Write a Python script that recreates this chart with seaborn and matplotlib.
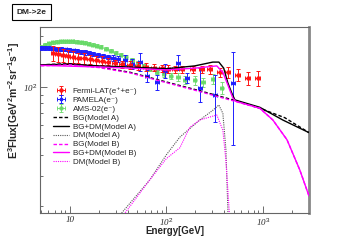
import numpy as np
import pandas as pd
import matplotlib
matplotlib.use("Agg")
import matplotlib.pyplot as plt
import matplotlib.ticker as mticker
import seaborn as sns

# Fermi-LAT (e+ + e-)
fermi_E = [6.7, 7.5, 8.5, 9.5, 10.7, 12.1, 14.0, 16.1, 18.6, 21.4, 24.7, 29.3, 34.6, 41.9, 50.7,
           61.3, 74.2, 89.7, 103.5, 122, 145, 188, 233, 282, 358, 433, 550, 700, 888]
fermi_F = [158, 156, 154, 152, 150, 148, 147, 146, 144, 143, 141, 138, 136, 135, 133,
           131, 130, 129, 128, 127, 127, 127, 127, 127, 122, 122, 118, 113, 113]
fermi_rel = [0.10, 0.10, 0.09, 0.09, 0.08, 0.07, 0.07, 0.06, 0.06, 0.06, 0.05, 0.05, 0.05, 0.05, 0.05,
             0.05, 0.05, 0.05, 0.05, 0.05, 0.05, 0.05, 0.05, 0.06, 0.06, 0.07, 0.08, 0.09, 0.10]

# PAMELA (e-)
pamela_E = [5.0, 5.5, 6.06, 6.67, 7.33, 8.07, 8.88, 9.76, 10.7, 11.8, 13.0, 14.3, 15.7, 17.3, 19.5,
            22.0, 24.7, 27.9, 31.4, 37.2, 43.9, 53.1, 62.8, 79.6, 96.3, 131.6, 163, 222, 318, 489]
pamela_F = [169.6, 169.6, 169.6, 168, 167.3, 167.3, 166, 165, 164, 163, 160.7, 159.6, 158.5, 156.4, 154.3,
            152.3, 150.3, 148.3, 146.3, 144.2, 136.5, 140, 116, 107, 124.2, 138.4, 113, 98.7, 89.7, 105.6]
pamela_lo = [165, 165, 165, 164, 163, 163, 162, 161, 160, 159, 156, 155, 154, 152, 150,
             147, 145, 143, 141, 134.7, 127.6, 124.2, 107, 96, 112.9, 125.9, 105.6, 81.6, 62.2, 45.6]
pamela_hi = [174, 174, 174, 172, 171, 171, 170, 169, 168, 167, 165, 164, 163, 161, 159,
             157, 155, 154, 152, 154.3, 146, 158.5, 125.8, 117.6, 136.5, 154.3, 120.9, 129.4, 117.6, 160.6]

# AMS-02 (e-)
ams_E = [5.0, 5.5, 6.06, 6.67, 7.33, 8.07, 8.88, 9.76, 10.7, 11.8, 13.0, 14.3, 15.7, 17.3, 19.0,
         20.9, 23.6, 26.6, 29.9, 33.7, 38.0, 43.9, 50.7, 58.4, 67.4, 79.6, 94.1, 111, 132, 156,
         197, 239, 303, 375]
ams_F = [172, 176.6, 180.2, 182.7, 183.9, 185, 185, 185, 185, 183.9, 182.7, 181.4, 179, 176.6, 174.3,
         172, 167.3, 162.9, 158.5, 154.3, 150.2, 144.1, 138.4, 132.9, 127.6, 122.5, 119.2, 116.1, 114.5, 110,
         110, 107, 111.5, 98.7]
ams_rel = [0.02] * 20 + [0.03] * 6 + [0.04, 0.04, 0.05, 0.05, 0.06, 0.06, 0.07, 0.08]

# Model A curves
bgA_E = [5, 10, 20, 42, 100, 222, 490, 930, 1690, 3000]
bgA_F = [135, 137, 131, 122, 107, 95, 84, 75, 66, 54]
totA_E = [5, 10, 20, 42, 100, 197, 303, 350, 393, 433, 477, 513, 930, 1610, 3000]
totA_F = [135, 136, 133, 131, 128, 133, 140, 140, 129, 106, 92, 84, 76, 64, 54]
dmA_E = [31, 67, 100, 138, 222, 303, 350, 385, 414, 440]
dmA_F = [17, 28.4, 40, 50.8, 64, 73, 78.4, 70, 43, 15]

# Model B curves
bgB_E = [5, 10, 20, 42, 100, 222, 490, 930, 1270, 1780, 2420, 3000]
bgB_F = [133, 135, 130, 121, 106, 94, 83, 75, 64, 49, 32.5, 23]
totB_E = [5, 20, 42, 100, 197, 333, 385, 433, 489, 521, 930, 1270, 1780, 2420, 3000]
totB_F = [134, 131, 129, 126, 129, 133, 122, 103, 86, 82.5, 75, 64, 49, 32.5, 23]
dmB_E = [34, 67, 100, 138, 175, 222, 333, 385, 414, 460]
dmB_F = [17, 28.4, 38, 44, 58, 64, 68.5, 55.8, 37, 15]

sns.set_style("ticks")
plt.rcParams['font.family'] = ['Liberation Sans', 'DejaVu Sans']
plt.rcParams['mathtext.fontset'] = 'custom'
plt.rcParams['mathtext.rm'] = 'Liberation Sans'
plt.rcParams['mathtext.bf'] = 'Liberation Sans:bold'

fig = plt.figure(figsize=(3.51, 2.41), dpi=100)
ax = fig.add_axes([0.114, 0.116, 0.766, 0.772])

red, blue, green = "#ff1414", "#1e1eff", "#66d966"

lab_f = "Fermi-LAT(e\u207a+e\u207b)"
lab_p = "PAMELA(e\u207b)"
lab_a = "AMS-02(e\u207b)"

f_E = np.array(fermi_E); f_F = np.array(fermi_F)
f_err = f_F * np.array(fermi_rel)
ax.errorbar(f_E, f_F, yerr=f_err, xerr=[f_E * 0.06, f_E * 0.06], fmt='o', color=red, ms=2.2,
            elinewidth=0.7, capsize=1.2, capthick=0.7, zorder=5, label=lab_f)

p_E = np.array(pamela_E); p_F = np.array(pamela_F)
ax.errorbar(p_E, p_F, yerr=[p_F - np.array(pamela_lo), np.array(pamela_hi) - p_F],
            xerr=[p_E * 0.05, p_E * 0.05], fmt='s', color=blue, ms=2.0,
            elinewidth=0.7, capsize=1.2, capthick=0.7, zorder=4, label=lab_p)

a_E = np.array(ams_E); a_F = np.array(ams_F)
ax.errorbar(a_E, a_F, yerr=a_F * np.array(ams_rel), xerr=[a_E * 0.04, a_E * 0.04], fmt='o',
            color=green, ms=2.2, elinewidth=0.7, capsize=1.2, capthick=0.7, alpha=0.85,
            zorder=3, label=lab_a)

curves = [
    (bgA_E, bgA_F, "BG(Model A)", "black", (0, (2.5, 1.5)), 1.0),
    (totA_E, totA_F, "BG+DM(Model A)", "black", "-", 1.0),
    (dmA_E, dmA_F, "DM(Model A)", "#555555", (0, (1, 1)), 0.8),
    (bgB_E, bgB_F, "BG(Model B)", "#ff00ff", (0, (2.5, 1.5)), 1.0),
    (totB_E, totB_F, "BG+DM(Model B)", "#ff00ff", "-", 1.0),
    (dmB_E, dmB_F, "DM(Model B)", "#ff00ff", (0, (1, 1)), 0.8),
]
for xs, ys, lab, col, ls, lw in curves:
    d = pd.DataFrame({"E": xs, "F": ys})
    sns.lineplot(data=d, x="E", y="F", ax=ax, color=col, linestyle=ls, linewidth=lw,
                 sort=False, label=lab, zorder=6)

ax.set_xscale("log")
ax.set_yscale("log")
ax.set_xlim(4.9, 3000)
ax.set_ylim(18.2, 225)

ax.xaxis.set_major_locator(mticker.FixedLocator([10, 100, 1000]))
ax.xaxis.set_major_formatter(mticker.FixedFormatter(["10", "10$^{2}$", "10$^{3}$"]))
ax.xaxis.set_minor_locator(mticker.LogLocator(base=10, subs=np.arange(2, 10)))
ax.xaxis.set_minor_formatter(mticker.NullFormatter())
ax.yaxis.set_major_locator(mticker.FixedLocator([100]))
ax.yaxis.set_major_formatter(mticker.FixedFormatter(["10$^{2}$"]))
ax.yaxis.set_minor_locator(mticker.LogLocator(base=10, subs=np.arange(2, 10)))
ax.yaxis.set_minor_formatter(mticker.NullFormatter())
ax.tick_params(which="both", direction="in", color="#555555", width=0.6)
ax.tick_params(which="major", length=5, pad=2)
ax.tick_params(which="minor", length=2.5)
for lbl in ax.get_xticklabels() + ax.get_yticklabels():
    lbl.set_family("Liberation Serif")
    lbl.set_style("italic")
    lbl.set_fontsize(6.5)

for s in ["left", "bottom", "top"]:
    ax.spines[s].set_color("#666666")
    ax.spines[s].set_linewidth(0.8)
ax.spines["right"].set_color("#888888")
ax.spines["right"].set_linewidth(2.0)

ax.set_xlabel("")
ax.set_ylabel("")
fig.text(0.497, 0.04, "Energy[GeV]", ha="center", va="center", fontsize=7, fontweight="bold")
fig.text(0.04, 0.585, r"E$^{\mathbf{3}}$Flux[GeV$^{\mathbf{2}}$m$^{\mathbf{-2}}$sr$^{\mathbf{-1}}$s$^{\mathbf{-1}}$]",
         rotation=90, ha="center", va="center", fontsize=7.5, fontweight="bold")
fig.text(0.09, 0.95, "DM->2e", ha="center", va="center", fontsize=6, fontweight="bold",
         bbox=dict(boxstyle="square,pad=0.5", facecolor="white", edgecolor="black", linewidth=0.8))

handles, labels = ax.get_legend_handles_labels()
order = [lab_f, lab_p, lab_a, "BG(Model A)", "BG+DM(Model A)", "DM(Model A)",
         "BG(Model B)", "BG+DM(Model B)", "DM(Model B)"]
hmap = dict(zip(labels, handles))
ax.legend([hmap[k] for k in order], order, loc="upper left", bbox_to_anchor=(0.05, 0.675),
          frameon=False, fontsize=5.8, labelspacing=0.18, handlelength=1.9, handletextpad=0.5,
          borderaxespad=0, borderpad=0, handleheight=0.6)

fig.savefig("out.png", dpi=100)
